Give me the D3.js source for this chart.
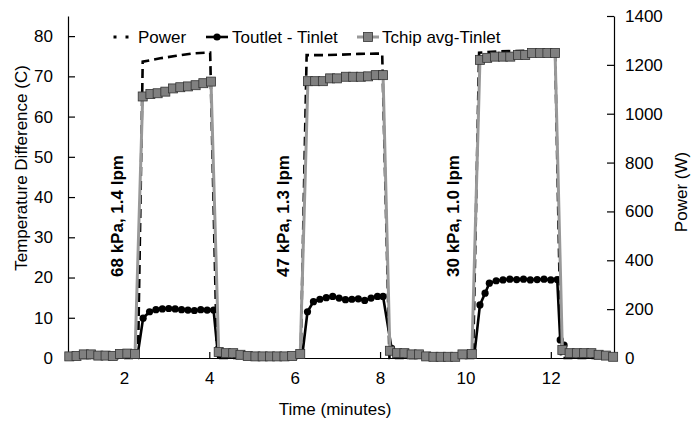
<!DOCTYPE html>
<html>
<head>
<meta charset="utf-8">
<script src="https://cdn.jsdelivr.net/npm/d3@7"></script>
<style>
	body { margin: 0; background: #fff; }
	text { font-family: "Liberation Sans", Arial, sans-serif; fill: #000; }
</style>
</head>
<body>
<svg id="chart" width="694" height="424"></svg>
<script>
// chip avg - inlet (left axis, C)
const chipMin = [0.72, 0.89, 1.06, 1.23, 1.40, 1.57, 1.74, 1.91, 2.08, 2.26,
	2.44, 2.62, 2.79, 2.97, 3.15, 3.32, 3.50, 3.68, 3.86, 4.04,
	4.22, 4.39, 4.56, 4.73, 4.90, 5.08, 5.25, 5.42, 5.59, 5.76, 5.94, 6.13,
	6.31, 6.48, 6.66, 6.83, 6.99, 7.20, 7.37, 7.55, 7.72, 7.90, 8.07,
	8.23, 8.40, 8.57, 8.74, 8.91, 9.08, 9.25, 9.42, 9.59, 9.76, 9.93, 10.15,
	10.34, 10.51, 10.69, 10.88, 11.05, 11.23, 11.40, 11.56, 11.75, 11.92, 12.10,
	12.27, 12.44, 12.61, 12.78, 12.95, 13.12, 13.29, 13.46];
const chipC = [0.4, 0.5, 0.9, 0.9, 0.6, 0.6, 0.5, 1.0, 1.1, 1.0,
	65.0, 65.6, 65.8, 66.2, 67.0, 67.3, 67.5, 67.8, 68.3, 68.7,
	1.5, 1.2, 1.2, 0.8, 0.5, 0.4, 0.4, 0.4, 0.4, 0.4, 0.5, 1.0,
	68.8, 68.8, 68.8, 69.5, 69.5, 69.9, 69.9, 69.9, 70.0, 70.3, 70.3,
	1.8, 1.2, 1.2, 0.9, 0.9, 0.4, 0.3, 0.3, 0.3, 0.3, 0.9, 1.0,
	74.1, 74.6, 74.9, 74.9, 74.9, 75.3, 75.3, 75.8, 75.8, 75.8, 75.8,
	2.0, 1.2, 1.2, 1.2, 1.2, 0.8, 0.6, 0.3];

// outlet - inlet (left axis, C), null = gap between runs
const outletMin = [2.31, 2.45, 2.60, 2.75, 2.90, 3.05, 3.20, 3.35, 3.50, 3.65, 3.80, 3.95, 4.10, 4.21, null,
	6.17, 6.30, 6.44, 6.59, 6.74, 6.89, 7.04, 7.19, 7.34, 7.49, 7.64, 7.79, 7.94, 8.07, 8.27, 8.35, null,
	10.20, 10.34, 10.46, 10.56, 10.72, 10.88, 11.04, 11.20, 11.36, 11.52, 11.68, 11.84, 12.00, 12.15, 12.22, 12.31, 12.40];
const outletC = [0, 9.9, 11.5, 12.0, 12.2, 12.3, 12.2, 12.0, 11.9, 11.8, 12.0, 11.9, 11.9, 0, null,
	0, 11.5, 14.0, 14.6, 15.0, 15.3, 14.9, 14.5, 14.6, 14.7, 14.3, 14.9, 15.3, 15.3, 2.4, 0, null,
	0, 13.2, 16.1, 18.6, 19.2, 19.4, 19.6, 19.5, 19.6, 19.4, 19.5, 19.6, 19.4, 19.5, 4.5, 3.2, 0];

// power (right axis, W)
const powerMin = [0.69, 2.33, 2.44, 2.85, 3.23, 3.61, 3.96, 4.02, 4.18,
	6.14, 6.28, 6.70, 7.10, 7.50, 7.90, 8.05, 8.22,
	10.18, 10.32, 10.80, 11.40, 11.90, 12.10, 12.24, 13.48];
const powerW = [0, 0, 1213, 1227, 1237, 1247, 1250, 1250, 0,
	0, 1240, 1240, 1242, 1245, 1246, 1246, 0,
	0, 1250, 1255, 1258, 1260, 1260, 0, 0];

const timeTicks = [2, 4, 6, 8, 10, 12];
const tempTicks = [0, 10, 20, 30, 40, 50, 60, 70, 80];
const powerTicks = [0, 200, 400, 600, 800, 1000, 1200, 1400];
const runLabels = [
	{text: "68 kPa, 1.4 lpm", t: 1.83},
	{text: "47 kPa, 1.3 lpm", t: 5.72},
	{text: "30 kPa, 1.0 lpm", t: 9.71}
];

const svg = d3.select("#chart");
const plotLeft = 68, plotRight = 614, plotTop = 16, plotBottom = 358;

const x = d3.scaleLinear().domain([0.69, 13.48]).range([plotLeft, plotRight]);
const yT = d3.scaleLinear().domain([0, 85]).range([plotBottom, plotTop]);
const yP = d3.scaleLinear().domain([0, 1400]).range([plotBottom, plotTop]);

svg.append("rect").attr("width", 694).attr("height", 424).attr("fill", "#fff");

// axes, ticks point inward
const fontSize = "17px";
const gx = svg.append("g")
	.attr("transform", "translate(0," + plotBottom + ")")
	.call(d3.axisBottom(x).tickValues(timeTicks).tickSizeInner(-6).tickSizeOuter(0).tickPadding(14).tickFormat(d3.format("d")));
const gl = svg.append("g")
	.attr("transform", "translate(" + plotLeft + ",0)")
	.call(d3.axisLeft(yT).tickValues(tempTicks).tickSizeInner(-7).tickSizeOuter(0).tickPadding(15));
const gr = svg.append("g")
	.attr("transform", "translate(" + plotRight + ",0)")
	.call(d3.axisRight(yP).tickValues(powerTicks).tickSizeInner(-7).tickSizeOuter(0).tickPadding(11).tickFormat(d3.format("d")));

[gx, gl, gr].forEach(function(g) {
	g.attr("font-family", null).attr("font-size", null);
	g.selectAll("text").style("font-size", fontSize);
	g.select(".domain").attr("stroke", "#000").attr("stroke-width", 1.2);
	g.selectAll(".tick line").attr("stroke", "#000").attr("stroke-width", 1.2);
});

// power: dashed black
const powerData = powerMin.map((t, i) => ({t: t, v: powerW[i]}));
svg.append("path")
	.datum(powerData)
	.attr("fill", "none")
	.attr("stroke", "#000")
	.attr("stroke-width", 2.6)
	.attr("stroke-dasharray", "9,5")
	.attr("d", d3.line().x(d => x(d.t)).y(d => yP(d.v)));

// outlet: black line + dots
const outletData = outletMin.map((t, i) => ({t: t, v: outletC[i]}));
svg.append("path")
	.datum(outletData)
	.attr("fill", "none")
	.attr("stroke", "#000")
	.attr("stroke-width", 2.6)
	.attr("d", d3.line().defined(d => d.t != null).x(d => x(d.t)).y(d => yT(d.v)));
svg.append("g").selectAll("circle")
	.data(outletData.filter(d => d.t != null && d.v > 0))
	.enter()
	.append("circle")
		.attr("cx", d => x(d.t))
		.attr("cy", d => yT(d.v))
		.attr("r", 3.6)
		.attr("fill", "#000");

// chip: grey line + squares
const chipData = chipMin.map((t, i) => ({t: t, v: chipC[i]}));
const sq = 9;
svg.append("path")
	.datum(chipData)
	.attr("fill", "none")
	.attr("stroke", "#999")
	.attr("stroke-width", 3)
	.attr("d", d3.line().x(d => x(d.t)).y(d => yT(d.v)));
svg.append("g").selectAll("rect")
	.data(chipData)
	.enter()
	.append("rect")
		.attr("x", d => x(d.t) - sq / 2)
		.attr("y", d => yT(d.v) - sq / 2)
		.attr("width", sq)
		.attr("height", sq)
		.attr("fill", "#808080")
		.attr("stroke", "#333")
		.attr("stroke-width", 0.8);

// run condition labels
svg.selectAll(".runLabel")
	.data(runLabels)
	.enter()
	.append("text")
		.attr("class", "runLabel")
		.attr("transform", d => "translate(" + x(d.t) + ",277) rotate(-90)")
		.attr("dy", "0.35em")
		.style("font-size", fontSize)
		.style("font-weight", "bold")
		.text(d => d.text);

// legend
const legY = 37;
const legend = svg.append("g");
legend.append("line")
	.attr("x1", 113.5).attr("x2", 130).attr("y1", legY).attr("y2", legY)
	.attr("stroke", "#000").attr("stroke-width", 3).attr("stroke-dasharray", "3,9");
legend.append("text").attr("x", 138).attr("y", legY).attr("dy", "0.35em").style("font-size", fontSize).text("Power");

legend.append("line")
	.attr("x1", 206).attr("x2", 228).attr("y1", legY).attr("y2", legY)
	.attr("stroke", "#000").attr("stroke-width", 2.6);
legend.append("circle").attr("cx", 217).attr("cy", legY).attr("r", 3.6).attr("fill", "#000");
legend.append("text").attr("x", 232).attr("y", legY).attr("dy", "0.35em").style("font-size", fontSize).text("Toutlet - Tinlet");

legend.append("line")
	.attr("x1", 357).attr("x2", 379).attr("y1", legY).attr("y2", legY)
	.attr("stroke", "#999").attr("stroke-width", 3);
legend.append("rect")
	.attr("x", 368 - sq / 2).attr("y", legY - sq / 2).attr("width", sq).attr("height", sq)
	.attr("fill", "#808080").attr("stroke", "#333").attr("stroke-width", 0.8);
legend.append("text").attr("x", 382).attr("y", legY).attr("dy", "0.35em").style("font-size", fontSize).text("Tchip avg-Tinlet");

// axis titles
svg.append("text")
	.attr("transform", "translate(21,168) rotate(-90)")
	.attr("text-anchor", "middle").attr("dy", "0.35em")
	.style("font-size", fontSize)
	.text("Temperature Difference (C)");
svg.append("text")
	.attr("transform", "translate(681,192) rotate(-90)")
	.attr("text-anchor", "middle").attr("dy", "0.35em")
	.style("font-size", fontSize)
	.text("Power (W)");
svg.append("text")
	.attr("x", 335).attr("y", 409)
	.attr("text-anchor", "middle").attr("dy", "0.35em")
	.style("font-size", fontSize)
	.text("Time (minutes)");
</script>
</body>
</html>
